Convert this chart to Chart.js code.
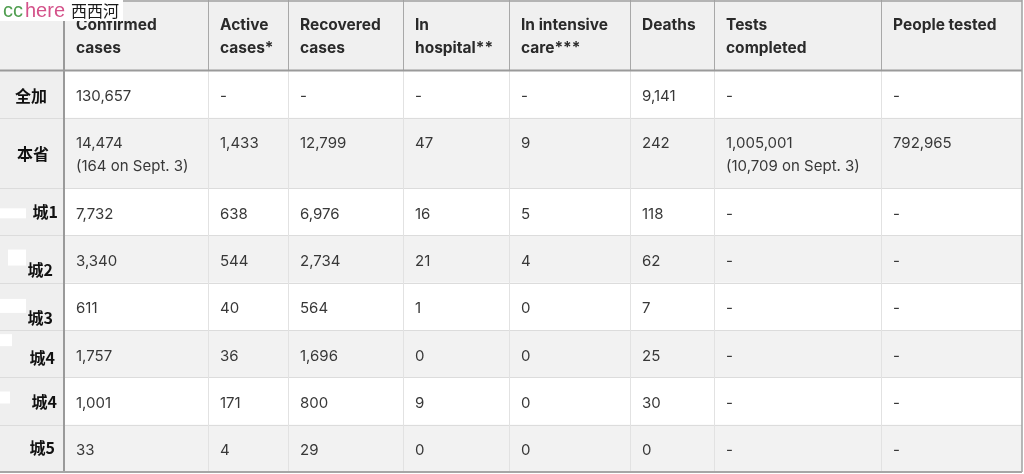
<!DOCTYPE html>
<html>
<head>
<meta charset="utf-8">
<script src="https://cdn.jsdelivr.net/npm/chart.js@4.4.1/dist/chart.umd.min.js"></script>
<style>
  html, body { margin: 0; padding: 0; background: #ffffff; }
  #wrap { width: 1024px; height: 474px; position: relative; }
</style>
</head>
<body>
<div id="wrap"><canvas id="tabela"></canvas></div>
<script>
// ===== dados =====
const columns = ['Confirmed\ncases', 'Active\ncases*', 'Recovered\ncases', 'In\nhospital**', 'In intensive\ncare***', 'Deaths', 'Tests\ncompleted', 'People tested'];
const regions = ['全加', '本省', '城1', '城2', '城3', '城4', '城4', '城5'];

const confirmed = [130657, 14474, 7732, 3340, 611, 1757, 1001, 33];
const confirmedNew = [null, 164, null, null, null, null, null, null];
const active = [null, 1433, 638, 544, 40, 36, 171, 4];
const recovered = [null, 12799, 6976, 2734, 564, 1696, 800, 29];
const hospital = [null, 47, 16, 21, 1, 0, 9, 0];
const intensive = [null, 9, 5, 4, 0, 0, 0, 0];
const deaths = [9141, 242, 118, 62, 7, 25, 30, 0];
const tests = [null, 1005001, null, null, null, null, null, null];
const testsNew = [null, 10709, null, null, null, null, null, null];
const peopleTested = [null, 792965, null, null, null, null, null, null];
const noteDate = 'Sept. 3';

// ===== layout =====
const colWidths = [64, 144, 80, 115, 106, 121, 84, 167, 141]; // 1a coluna = nomes
const lineH = 23;
const basePad = 24;
const labelRightPad = [17, 15, 6, 11, 11, 9, 7, 9];
const labelShift = [2, 1, 0, 11, 11, 4, 1, 0]; // linha apagada acima do nome
// manchas brancas onde o nome original foi apagado: [linha, x, dy, w, h]
const erased = [[2, 0, 20, 26, 10], [3, 8, 14, 18, 16], [4, 0, 16, 26, 14], [5, 0, 4, 12, 12], [6, 0, 14, 10, 12]];

function fmt(v) { return v === null ? '-' : v.toLocaleString('en-US'); }

// monta as células a partir das séries
const series = [confirmed, active, recovered, hospital, intensive, deaths, tests, peopleTested];
const notes = [confirmedNew, null, null, null, null, null, testsNew, null];
const cells = regions.map((r, i) => series.map((s, c) => {
    const lines = [fmt(s[i])];
    if (notes[c] && notes[c][i] !== null) lines.push('(' + fmt(notes[c][i]) + ' on ' + noteDate + ')');
    return lines;
}));

const headerLines = columns.map(c => c.split('\n'));
const rowLines = cells.map(row => Math.max(...row.map(l => l.length)));
const rowHeights = [basePad + lineH * 2].concat(rowLines.map(n => basePad + lineH * n));

const colEdges = [0];
colWidths.forEach(w => colEdges.push(colEdges[colEdges.length - 1] + w));
const rowEdges = [0];
rowHeights.forEach(h => rowEdges.push(rowEdges[rowEdges.length - 1] + h));
const totalW = colEdges[colEdges.length - 1];
const totalH = rowEdges[rowEdges.length - 1];

// pontos âncora das células (canto superior esquerdo)
const anchors = [];
cells.forEach((row, i) => row.forEach((lines, c) => anchors.push({ x: colEdges[c + 1], y: rowEdges[i + 1], lines: lines })));
headerLines.forEach((lines, c) => anchors.push({ x: colEdges[c + 1], y: rowEdges[0], lines: lines, header: true }));

const BODY_FONT = '15px Inter, "Noto Sans", sans-serif';
const HEAD_FONT = 'bold 15.5px Inter, "Noto Sans", sans-serif';
const LABEL_FONT = 'bold 16px "Noto Sans CJK SC", sans-serif';

const tablePlugin = {
    id: 'tabela',
    beforeDatasetsDraw(chart) {
        const { ctx, scales: { x, y } } = chart;
        const px = v => x.getPixelForValue(v);
        const py = v => y.getPixelForValue(v);
        ctx.save();
        // fundos
        ctx.fillStyle = '#f0f0f0';
        ctx.fillRect(px(0), py(0), px(totalW) - px(0), py(rowEdges[1]) - py(0));
        for (let i = 0; i < regions.length; i++) {
            ctx.fillStyle = i % 2 === 1 ? '#f2f2f2' : '#ffffff';
            ctx.fillRect(px(0), py(rowEdges[i + 1]), px(totalW) - px(0), py(rowEdges[i + 2]) - py(rowEdges[i + 1]));
        }
        ctx.fillStyle = '#efefef';
        ctx.fillRect(px(0), py(rowEdges[1]), px(colEdges[1]) - px(0), py(totalH) - py(rowEdges[1]));

        // manchas brancas
        ctx.fillStyle = '#ffffff';
        erased.forEach(([r, ex, dy, w, h]) => {
            ctx.fillRect(px(ex), py(rowEdges[r + 1] + dy), w, h);
        });

        // linhas horizontais
        ctx.lineWidth = 1;
        for (let i = 2; i < rowEdges.length - 1; i++) {
            ctx.strokeStyle = '#dcdcdc';
            ctx.beginPath();
            ctx.moveTo(px(0), Math.round(py(rowEdges[i])) + 0.5);
            ctx.lineTo(px(totalW), Math.round(py(rowEdges[i])) + 0.5);
            ctx.stroke();
        }
        // linhas verticais
        for (let c = 2; c < colEdges.length - 1; c++) {
            const xx = Math.round(px(colEdges[c])) + 0.5;
            ctx.strokeStyle = '#e2e2e2';
            ctx.beginPath(); ctx.moveTo(xx, py(rowEdges[1])); ctx.lineTo(xx, py(totalH)); ctx.stroke();
            ctx.strokeStyle = '#a8a8a8';
            ctx.beginPath(); ctx.moveTo(xx, py(0)); ctx.lineTo(xx, py(rowEdges[1])); ctx.stroke();
        }
        // bordas mais escuras
        ctx.strokeStyle = '#9a9a9a';
        ctx.lineWidth = 2;
        ctx.beginPath(); ctx.moveTo(px(colEdges[1]), py(0)); ctx.lineTo(px(colEdges[1]), py(totalH)); ctx.stroke();
        ctx.beginPath(); ctx.moveTo(px(0), py(rowEdges[1])); ctx.lineTo(px(totalW), py(rowEdges[1])); ctx.stroke();
        ctx.lineWidth = 1.5;
        ctx.strokeStyle = '#a0a0a0';
        ctx.beginPath(); ctx.moveTo(px(0), py(0) + 1); ctx.lineTo(px(totalW), py(0) + 1); ctx.stroke();
        ctx.beginPath(); ctx.moveTo(px(totalW), py(0)); ctx.lineTo(px(totalW), py(totalH)); ctx.stroke();
        ctx.lineWidth = 2;
        ctx.strokeStyle = '#a6a6a6';
        ctx.beginPath(); ctx.moveTo(px(0), py(totalH)); ctx.lineTo(px(totalW), py(totalH)); ctx.stroke();
        ctx.restore();
    },
    afterDatasetsDraw(chart) {
        const { ctx, scales: { x, y } } = chart;
        const meta = chart.getDatasetMeta(0);
        ctx.save();
        ctx.textBaseline = 'middle';
        ctx.textAlign = 'left';
        meta.data.forEach((pt, k) => {
            const a = anchors[k];
            ctx.font = a.header ? HEAD_FONT : BODY_FONT;
            ctx.fillStyle = a.header ? '#2a2a2a' : '#383838';
            const top = a.header ? 25 : 26;
            a.lines.forEach((t, j) => ctx.fillText(t, pt.x + 12, pt.y + top + j * lineH));
        });
        // nomes das regiões
        ctx.font = LABEL_FONT;
        ctx.fillStyle = '#111111';
        ctx.textAlign = 'right';
        regions.forEach((r, i) => {
            const cy = (y.getPixelForValue(rowEdges[i + 1]) + y.getPixelForValue(rowEdges[i + 2])) / 2;
            ctx.fillText(r, x.getPixelForValue(colEdges[1]) - labelRightPad[i], cy + labelShift[i]);
        });
        ctx.restore();
    },
    afterDraw(chart) {
        const ctx = chart.ctx;
        ctx.save();
        ctx.fillStyle = '#ffffff';
        ctx.fillRect(0, 0, 123, 21);
        ctx.textBaseline = 'alphabetic';
        ctx.textAlign = 'left';
        ctx.font = '20px "Liberation Sans", sans-serif';
        ctx.fillStyle = '#4f9e4f';
        ctx.fillText('cc', 3, 17);
        ctx.fillStyle = '#d4528a';
        ctx.fillText('here', 25, 17);
        ctx.font = '16px "Noto Sans CJK SC", sans-serif';
        ctx.fillStyle = '#1a1a1a';
        ctx.fillText('西西河', 71, 17);
        ctx.restore();
    }
};

new Chart(document.getElementById('tabela'), {
    type: 'scatter',
    data: {
        datasets: [{
            data: anchors.map(a => ({ x: a.x, y: a.y })),
            pointRadius: 0
        }]
    },
    options: {
        responsive: true,
        maintainAspectRatio: false,
        animation: false,
        events: [],
        layout: { padding: { left: 0, top: 0, right: 2, bottom: 474 - 1 - totalH - 2 } },
        plugins: { legend: { display: false }, tooltip: { enabled: false } },
        scales: {
            x: { type: 'linear', display: false, min: 0, max: totalW },
            y: { type: 'linear', display: false, min: 0, max: totalH, reverse: true }
        }
    },
    plugins: [tablePlugin]
});
</script>
</body>
</html>
